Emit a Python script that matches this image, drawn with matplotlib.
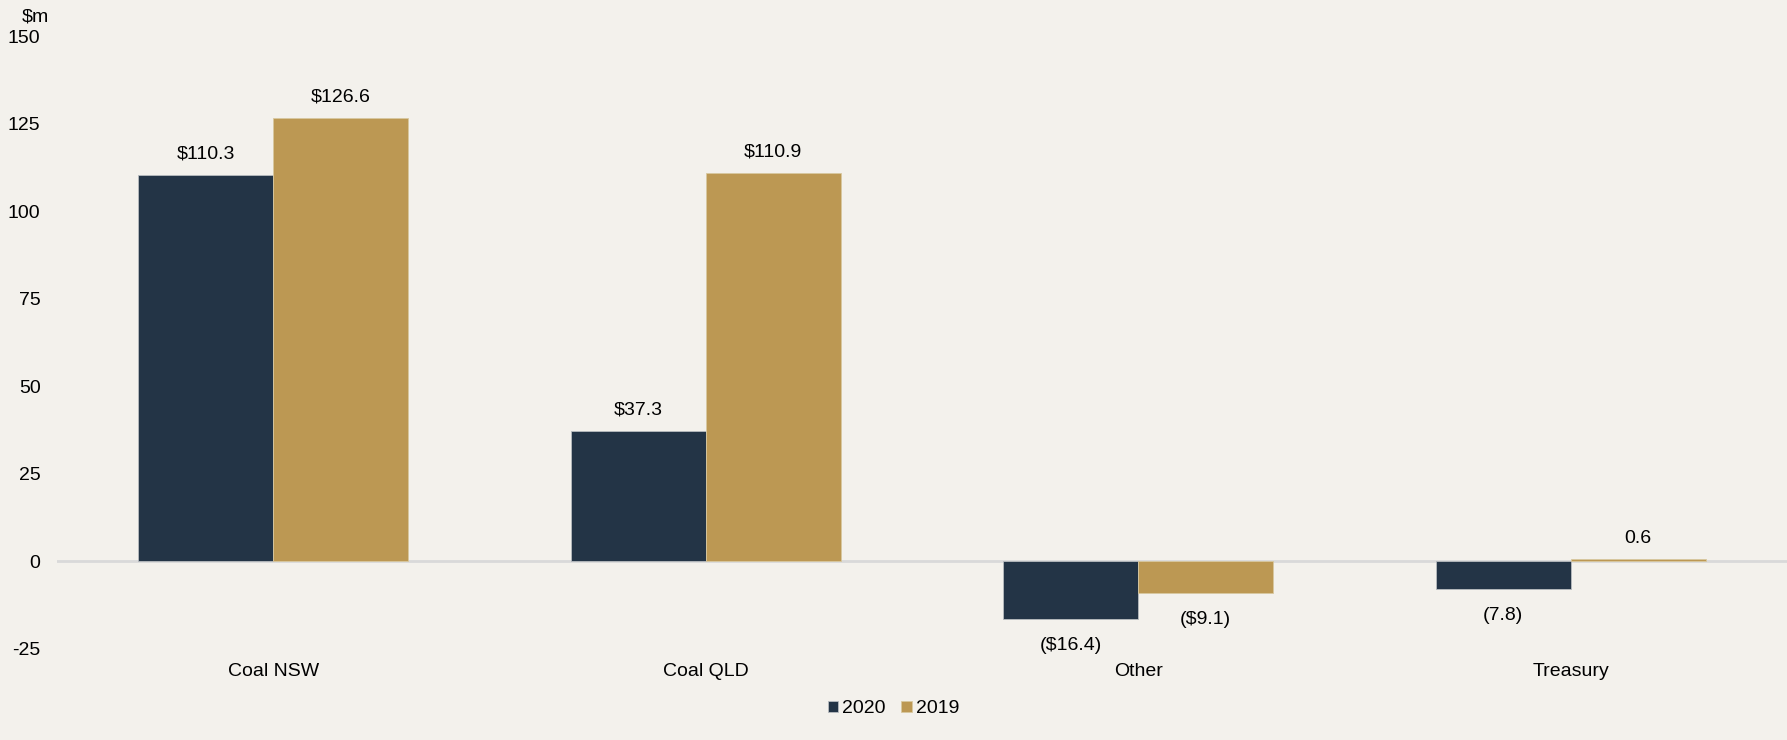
import matplotlib
matplotlib.use('Agg')
import matplotlib.pyplot as plt
import numpy as np

categories = ['Coal NSW', 'Coal QLD', 'Other', 'Treasury']
values_2020 = [110.3, 37.3, -16.4, -7.8]
values_2019 = [126.6, 110.9, -9.1, 0.6]
labels_2020 = ['$110.3', '$37.3', '($16.4)', '(7.8)']
labels_2019 = ['$126.6', '$110.9', '($9.1)', '0.6']
yticks = [-25, 0, 25, 50, 75, 100, 125, 150]

navy = '#233446'
gold = '#BC9853'
bg = '#F3F1EC'

plt.rcParams['font.family'] = ['Liberation Sans', 'DejaVu Sans']
plt.rcParams['font.size'] = 14
plt.rcParams['axes.unicode_minus'] = False

fig = plt.figure(figsize=(17.87, 7.40), dpi=100, facecolor=bg)
ax = fig.add_axes([0.032, 0.123, 0.968, 0.828], facecolor=bg)

x = np.arange(len(categories))
w = 0.312
b20 = ax.bar(x - w / 2, values_2020, w, color=navy, edgecolor='#b8bcc0', linewidth=0.6, label='2020')
b19 = ax.bar(x + w / 2, values_2019, w, color=gold, edgecolor='#d8c8a0', linewidth=0.6, label='2019')


def add_labels(bars, vals, texts):
    for bar, v, t in zip(bars, vals, texts):
        cx = bar.get_x() + bar.get_width() / 2
        if v >= 0:
            ax.annotate(t, (cx, v), xytext=(0, 15), textcoords='offset points',
                        ha='center', va='center', fontsize=14)
        else:
            ax.annotate(t, (cx, v), xytext=(0, -19), textcoords='offset points',
                        ha='center', va='center', fontsize=14)


add_labels(b20, values_2020, labels_2020)
add_labels(b19, values_2019, labels_2019)

ax.axhline(0, color='#d9d9d9', linewidth=2, zorder=0.5)

ax.set_xlim(-0.5, 3.5)
ax.set_ylim(-25, 150)
ax.set_yticks(yticks)
ax.set_xticks(x)
ax.set_xticklabels(categories)
ax.tick_params(axis='both', length=0, labelsize=14)
ax.tick_params(axis='x', pad=10)
ax.tick_params(axis='y', pad=12)
for s in ax.spines.values():
    s.set_visible(False)

fig.text(0.02, 0.977, '$m', ha='center', va='center', fontsize=14)

fig.legend(handles=[b20, b19], labels=['2020', '2019'], loc='center',
           bbox_to_anchor=(0.5, 0.042), ncol=2, frameon=False, fontsize=14,
           handlelength=0.55, handleheight=0.55, handletextpad=0.2, columnspacing=0.8)

fig.savefig('out.png', dpi=100, facecolor=bg)
